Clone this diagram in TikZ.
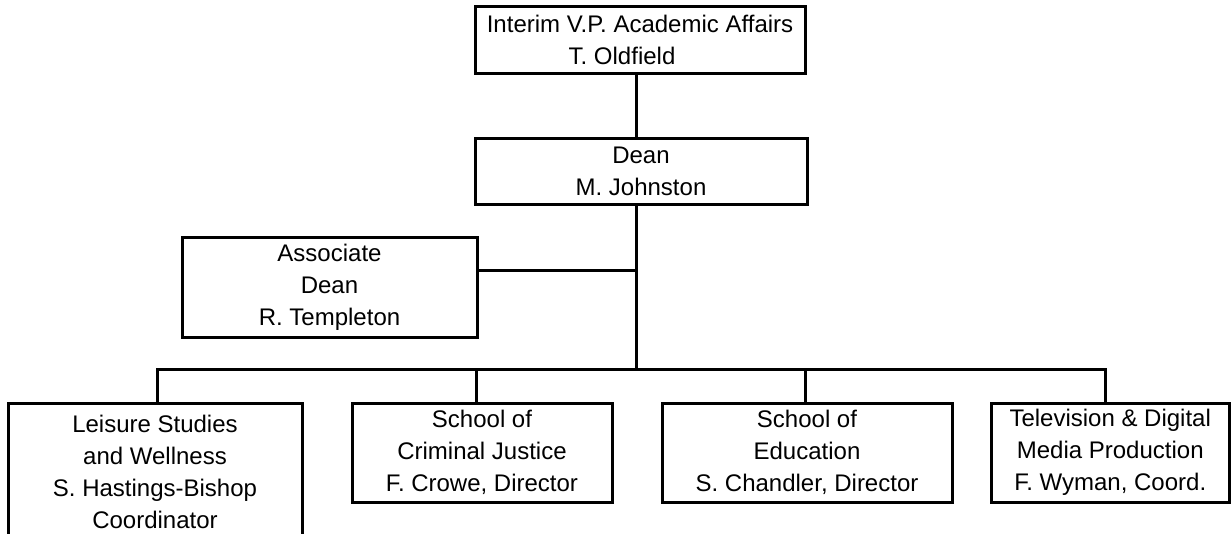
\documentclass[tikz,border=0pt]{standalone}
\usepackage{fontspec}
\setmainfont{Liberation Sans}
\usetikzlibrary{positioning}
\tikzstyle{office}=[draw,line width=3pt,inner sep=0pt,align=center,font=\fontsize{24}{32}\selectfont]
\tikzstyle{link}=[line width=3pt]

\begin{document}
\begin{tikzpicture}[x=1pt,y=-1pt]
  \useasboundingbox (0,0) rectangle (1231,533);
  \node(vp)[office,minimum width=330pt,minimum height=67pt] at (640,40)
    {Interim V.P. Academic Affairs\\T. Oldfield\hspace*{36pt}};
  \node(dean)[office,minimum width=332pt,minimum height=66pt] at (641,171)
    {Dean\\M. Johnston};
  \node(assoc)[office,minimum width=295pt,minimum height=100pt] at (329.5,287)
    {Associate\\Dean\\R. Templeton};
  \node(leisure)[office,minimum width=294pt,minimum height=137pt] at (155,471.5)
    {Leisure Studies\\and Wellness\\S. Hastings-Bishop\\Coordinator};
  \node(crim)[office,minimum width=260pt,minimum height=99pt] at (482,452.5)
    {School of\\Criminal Justice\\F. Crowe, Director};
  \node(edu)[office,minimum width=290pt,minimum height=99pt] at (807,452.5)
    {School of\\Education\\S. Chandler, Director};
  \node(tv)[office,minimum width=238.5pt,minimum height=99pt] at (1110.25,452.5)
    {Television \& Digital\\Media Production\\F. Wyman, Coord.};
  % trunk and bus
  \coordinate(hub) at (636,270);
  \coordinate(bus) at (636,369);
  \coordinate(d1) at (157,369);
  \coordinate(d2) at (476,369);
  \coordinate(d3) at (805,369);
  \coordinate(d4) at (1105,369);
  \draw[link] (vp.south -| hub) -- (dean.north -| hub);
  \draw[link] (dean.south -| hub) -- (bus);
  \draw[link] (assoc.east |- hub) -- (hub);
  \draw[link] (d1 |- leisure.north) -- (d1) -- (d4) -- (d4 |- tv.north);
  \draw[link] (d2) -- (d2 |- crim.north);
  \draw[link] (d3) -- (d3 |- edu.north);
\end{tikzpicture}
\end{document}
